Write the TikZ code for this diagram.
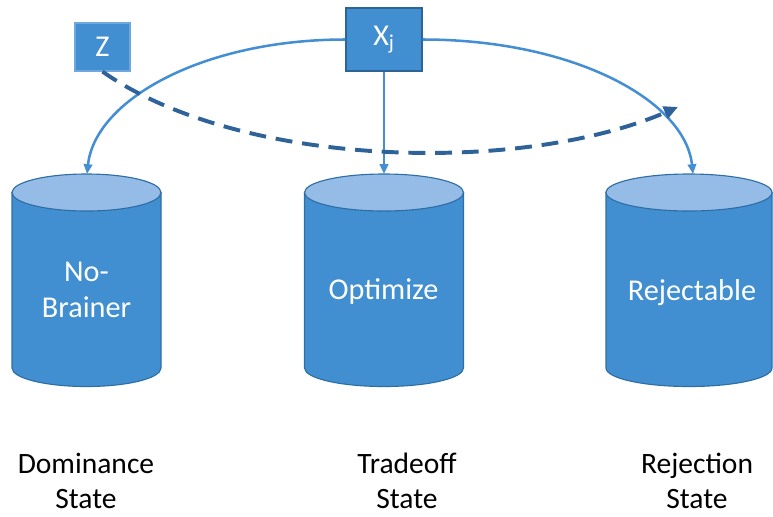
\documentclass[tikz,border=0pt]{standalone}
\usepackage{fontspec}
\setmainfont{Carlito}
\usetikzlibrary{arrows.meta}
\definecolor{cylblue}{RGB}{65,143,208}
\definecolor{cyltop}{RGB}{149,188,230}
\definecolor{cyledge}{RGB}{47,110,165}
\definecolor{flowblue}{RGB}{68,143,212}
\definecolor{dashblue}{RGB}{46,98,152}
\definecolor{zedge}{RGB}{110,168,222}
\definecolor{xedge}{RGB}{45,100,152}
\begin{document}
\begin{tikzpicture}[x=0.025cm, y=0.025cm, >={Triangle[length=7pt,width=6pt]},
    cyl/.style={draw=cyledge, line width=.8pt},
    box/.style={fill=cylblue, text=white, inner sep=0pt, line width=.8pt, font=\fontsize{21.5}{25}\selectfont},
    cyltext/.style={text=white, align=center, anchor=base, font=\fontsize{21.5}{25.5}\selectfont},
    statelabel/.style={align=center, anchor=base, font=\fontsize{21}{24.8}\selectfont},
    flow/.style={->, draw=flowblue, line width=1.8pt},
    dashflow/.style={-{Triangle[length=10pt,width=9pt]}, draw=dashblue, line width=2.8pt, dash pattern=on 12pt off 7pt}]
\useasboundingbox (0,0) rectangle (773,-516);

\foreach \cx/\r/\ax/\nm in {86.5/74.5/87/nb, 384/79.5/384/opt, 689/83/693/rej}
{
    \draw[cyl, fill=cylblue] (\cx-\r,-192.5) -- (\cx-\r,-368) arc[start angle=180, end angle=360, x radius=\r, y radius=18.5] -- (\cx+\r,-192.5) -- cycle;
    \draw[cyl, fill=cyltop] (\cx,-192.5) ellipse [x radius=\r, y radius=18.5];
    \coordinate (\nm-top) at (\ax,-174);
}

\node[cyltext] (nbtext) at (86.5,-317) {No-\\Brainer};
\node[cyltext] (opttext) at (383.5,-299) {Optimize};
\node[cyltext] (rejtext) at (692,-300) {Rejectable};

\node[box, draw=zedge, minimum width=1.375cm, minimum height=1.2cm] (z) at (102.5,-47) {Z};
\node[box, draw=xedge, minimum width=1.9cm, minimum height=1.575cm] (xj) at (384,-39.5) {X\textsubscript{j}};

\draw[flow] (xj.west) .. controls +(-143,0) and +(8,74) .. (nb-top);
\draw[flow] (xj.south) -- (opt-top);
\draw[flow] (xj.east) .. controls +(150,0) and +(-8,74) .. (rej-top);

\coordinate (zend) at (678,-107);
\draw[dashflow] (z.south) .. controls (240,-168) and (520,-175) .. (zend);

\node[statelabel] (dom) at (86,-508) {Dominance\\State};
\node[statelabel] (trade) at (407,-508) {Tradeoff\\State};
\node[statelabel] (rejst) at (697,-508) {Rejection\\State};
\end{tikzpicture}
\end{document}
